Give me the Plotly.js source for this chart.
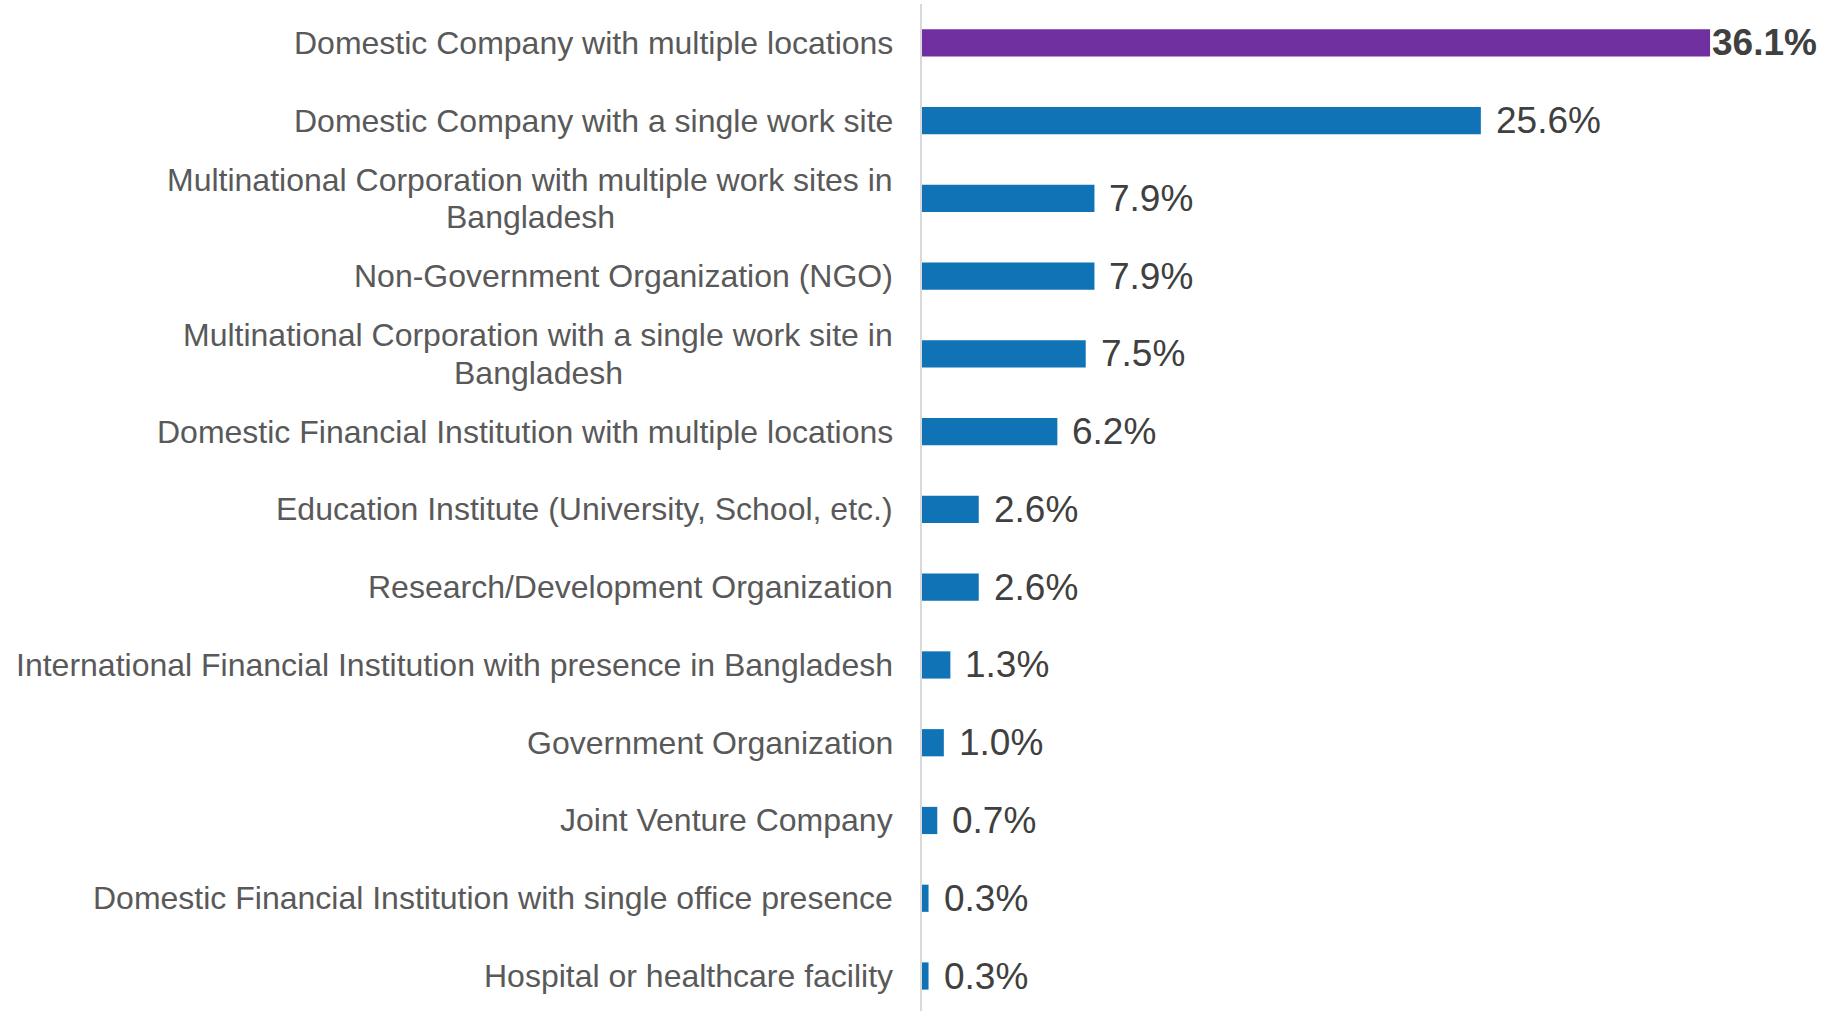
<!DOCTYPE html>
<html>
<head>
<meta charset="utf-8">
<script src="https://cdn.plot.ly/plotly-3.0.1.min.js"></script>
<style>
  html, body { margin: 0; padding: 0; background: #ffffff; }
  #chart { width: 1830px; height: 1011px; }
</style>
</head>
<body>
<div id="chart"></div>
<script>
// ---- data ----
const categories = [
  "Domestic Company with multiple locations",
  "Domestic Company with a single work site",
  "Multinational Corporation with multiple work sites in<br>Bangladesh",
  "Non-Government Organization (NGO)",
  "Multinational Corporation with a single work site in<br>Bangladesh",
  "Domestic Financial Institution with multiple locations",
  "Education Institute (University, School, etc.)",
  "Research/Development Organization",
  "International Financial Institution with presence in Bangladesh",
  "Government Organization",
  "Joint Venture Company",
  "Domestic Financial Institution with single office presence",
  "Hospital or healthcare facility"
];
const values = [36.1, 25.6, 7.9, 7.9, 7.5, 6.2, 2.6, 2.6, 1.3, 1.0, 0.7, 0.3, 0.3];
const valueLabels = values.map(v => v.toFixed(1) + "%");

// ---- style ----
const highlightIndex = 0;
const baseColor = "#0F73B6";
const highlightColor = "#7030A0";
const colors = categories.map((c, i) => i === highlightIndex ? highlightColor : baseColor);
const fontFamily = "'Liberation Sans', Arial, Helvetica, sans-serif";
const catFontSize = 32;
const catLineHeight = 37.7;

const ctx = document.createElement("canvas").getContext("2d");
ctx.font = catFontSize + "px 'Liberation Sans', Arial, sans-serif";
const measure = s => ctx.measureText(s).width;

const trace = {
  type: "bar",
  orientation: "h",
  x: values,
  y: categories,
  marker: { color: colors, line: { width: 0 } },
  width: 0.35,
  hoverinfo: "skip"
};

const annotations = [];
categories.forEach((c, i) => {
  const lines = c.split("<br>");
  const widths = lines.map(measure);
  const maxW = Math.max.apply(null, widths);
  const n = lines.length;
  lines.forEach((line, k) => {
    annotations.push({
      xref: "x", yref: "y",
      x: 0, y: c,
      text: line,
      showarrow: false,
      xanchor: "right", yanchor: "middle",
      xshift: -27 - (maxW - widths[k]) / 2,
      yshift: ((n - 1) / 2 - k) * catLineHeight,
      font: { family: fontFamily, size: catFontSize, color: "#595959" }
    });
  });
  const hl = i === highlightIndex;
  annotations.push({
    xref: "x", yref: "y",
    x: values[i], y: c,
    text: valueLabels[i],
    showarrow: false,
    xanchor: "left", yanchor: "middle",
    xshift: hl ? 0 : 13,
    font: { family: fontFamily, size: 37, color: "#404040", weight: hl ? 700 : 400 }
  });
});

const layout = {
  width: 1830,
  height: 1011,
  margin: { l: 922, r: 30, t: 4, b: 0, pad: 0 },
  paper_bgcolor: "#ffffff",
  plot_bgcolor: "#ffffff",
  showlegend: false,
  xaxis: {
    range: [0, 40.22],
    showgrid: false, zeroline: false, showticklabels: false, showline: false, ticks: ""
  },
  yaxis: {
    type: "category",
    categoryorder: "array",
    categoryarray: categories,
    range: [12.45, -0.5],
    autorange: false,
    showgrid: false, zeroline: false, showticklabels: false, ticks: "",
    showline: true, linecolor: "#D9D9D9", linewidth: 2
  },
  annotations: annotations,
  font: { family: fontFamily }
};

Plotly.newPlot("chart", [trace], layout, { staticPlot: true, displayModeBar: false });
</script>
</body>
</html>
